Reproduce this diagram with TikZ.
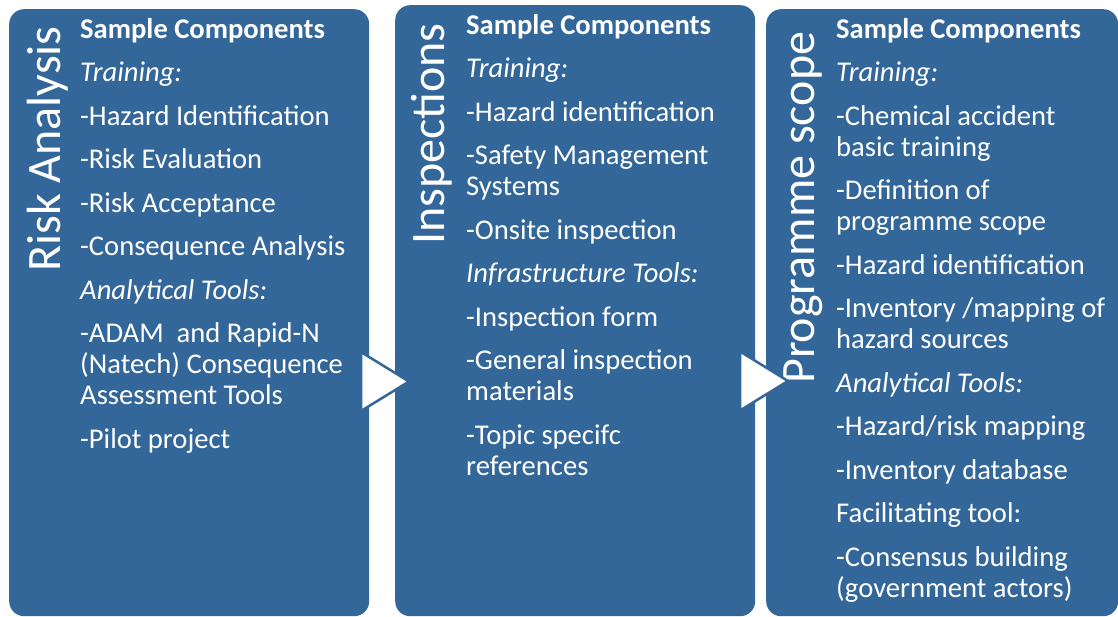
\documentclass[tikz,border=0pt]{standalone}
\usepackage{fontspec}
\setmainfont{Carlito}
\usetikzlibrary{shapes.geometric}
\definecolor{boxblue}{RGB}{52,103,153}
\newcommand\itemgap{12.5pt}

\begin{document}
\begin{tikzpicture}[x=1pt,y=-1pt,
    stage/.style={fill=boxblue,rounded corners=15pt,minimum width=360pt,minimum height=607pt,anchor=north west,inner sep=0pt},
    title/.style={rotate=90,anchor=base west,inner sep=0pt,text=white,font=\fontsize{48}{58}\selectfont},
    body/.style={anchor=north west,inner sep=0pt,align=left,text=white,font=\fontsize{28.6}{31}\selectfont},
    flow/.style={isosceles triangle,isosceles triangle stretches,fill=white,draw=boxblue,line width=2.5pt,
      minimum width=59pt,minimum height=48pt,inner sep=0pt,outer sep=0pt,anchor=apex}]
  \useasboundingbox (0,0) rectangle (1118,617);
  % stages
  \node[stage] (risk) at (9,9) {};
  \node[stage,minimum height=611pt] (insp) at (395,5) {};
  \node[stage,minimum width=352pt] (scope) at (766,9) {};
  % vertical titles
  \node[title] (riskT) at (60,272) {Risk Analysis};
  \node[title] (inspT) at (444,245) {Inspections};
  \node[title] (scopeT) at (814,384) {Programme scope};
  % components
  \node[body] (riskB) at (80,18) {\textbf{Sample Components}\\[\itemgap]
    \textit{Training:}\\[\itemgap]
    -Hazard Identification\\[\itemgap]
    -Risk Evaluation\\[\itemgap]
    -Risk Acceptance\\[\itemgap]
    -Consequence Analysis\\[\itemgap]
    \textit{Analytical Tools:}\\[\itemgap]
    -ADAM\ \ and Rapid-N\\(Natech) Consequence\\Assessment Tools\\[\itemgap]
    -Pilot project};
  \node[body] (inspB) at (466,14) {\textbf{Sample Components}\\[\itemgap]
    \textit{Training:}\\[\itemgap]
    -Hazard identification\\[\itemgap]
    -Safety Management\\Systems\\[\itemgap]
    -Onsite inspection\\[\itemgap]
    \textit{Infrastructure Tools:}\\[\itemgap]
    -Inspection form\\[\itemgap]
    -General inspection\\materials\\[\itemgap]
    -Topic specifc\\references};
  \node[body] (scopeB) at (836,18) {\textbf{Sample Components}\\[\itemgap]
    \textit{Training:}\\[\itemgap]
    -Chemical accident\\basic training\\[\itemgap]
    -Definition of\\programme scope\\[\itemgap]
    -Hazard identification\\[\itemgap]
    -Inventory /mapping of\\hazard sources\\[\itemgap]
    \textit{Analytical Tools:}\\[\itemgap]
    -Hazard/risk mapping\\[\itemgap]
    -Inventory database\\[\itemgap]
    Facilitating tool:\\[\itemgap]
    -Consensus building\\(government actors)};
  % flow arrows
  \node[flow] (arrA) at (409,381.5) {};
  \node[flow] (arrB) at (788,381) {};
\end{tikzpicture}
\end{document}
